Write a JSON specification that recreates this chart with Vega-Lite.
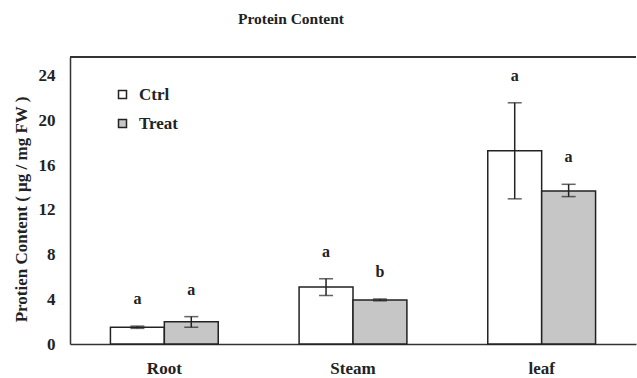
{
  "$schema": "https://vega.github.io/schema/vega-lite/v6.json",
  "autosize": {"type": "none"},
  "padding": {"left": 70, "top": 57, "right": 1, "bottom": 34},
  "width": 566,
  "height": 287,
  "background": "white",
  "config": {
    "view": {"stroke": null},
    "font": "Liberation Serif",
    "axis": {"labelFont": "Liberation Serif", "titleFont": "Liberation Serif", "labelFontWeight": "bold", "titleFontWeight": "bold", "labelColor": "#222", "titleColor": "#222"}
  },
  "title": {"text": "Protein Content", "font": "Liberation Serif", "fontSize": 15.5, "fontWeight": "bold", "color": "#222", "anchor": "middle", "dx": -62, "offset": 29},
  "data": {"values": [
    {"part": "Root", "series": "Ctrl", "value": 1.5, "lo": 1.4, "hi": 1.6, "letter": "a"},
    {"part": "Root", "series": "Treat", "value": 2.0, "lo": 1.5, "hi": 2.45, "letter": "a"},
    {"part": "Steam", "series": "Ctrl", "value": 5.1, "lo": 4.35, "hi": 5.85, "letter": "a"},
    {"part": "Steam", "series": "Treat", "value": 3.95, "lo": 3.87, "hi": 4.03, "letter": "b"},
    {"part": "leaf", "series": "Ctrl", "value": 17.3, "lo": 13.0, "hi": 21.6, "letter": "a"},
    {"part": "leaf", "series": "Treat", "value": 13.7, "lo": 13.2, "hi": 14.3, "letter": "a"}
  ]},
  "layer": [
    {
      "encoding": {
        "x": {"field": "part", "type": "nominal", "sort": ["Root", "Steam", "leaf"],
          "scale": {"paddingInner": 0, "paddingOuter": 0},
          "axis": {"title": null, "labelAngle": 0, "labelFontSize": 17, "labelPadding": 16, "ticks": false, "domainColor": "#333", "domainWidth": 1.5}},
        "xOffset": {"field": "series", "type": "nominal", "scale": {"paddingOuter": 0.75, "paddingInner": 0}}
      },
      "layer": [
        {
          "mark": {"type": "bar", "stroke": "#222", "strokeWidth": 1.5},
          "encoding": {
            "y": {"field": "value", "type": "quantitative",
              "scale": {"domain": [0, 25.7], "nice": false},
              "axis": {"values": [0, 4, 8, 12, 16, 20, 24], "grid": false, "ticks": false, "labelFontSize": 17, "labelPadding": 15, "domainColor": "#333", "domainWidth": 1.5,
                "title": "Protien Content ( μg / mg FW )", "titleFontSize": 17, "titleAngle": -90, "titleX": -49, "titleY": 152, "titleBaseline": "middle", "titleAlign": "center"}},
            "fill": {"field": "series", "type": "nominal",
              "scale": {"domain": ["Ctrl", "Treat"], "range": ["#ffffff", "#c6c6c6"]},
              "legend": {"title": null, "orient": "none", "legendX": 44, "legendY": 29, "symbolType": "square", "symbolSize": 64, "symbolStrokeColor": "#222", "symbolStrokeWidth": 1.5, "labelFont": "Liberation Serif", "labelFontWeight": "bold", "labelFontSize": 17, "labelColor": "#222", "rowPadding": 11, "labelOffset": 8}}
          }
        },
        {
          "mark": {"type": "rule", "color": "#222", "strokeWidth": 1.5},
          "encoding": {"y": {"field": "lo", "type": "quantitative"}, "y2": {"field": "hi"}}
        },
        {
          "mark": {"type": "tick", "color": "#222", "size": 14, "thickness": 1.5, "orient": "horizontal"},
          "encoding": {"y": {"field": "lo", "type": "quantitative"}}
        },
        {
          "mark": {"type": "tick", "color": "#222", "size": 14, "thickness": 1.5, "orient": "horizontal"},
          "encoding": {"y": {"field": "hi", "type": "quantitative"}}
        },
        {
          "mark": {"type": "text", "font": "Liberation Serif", "fontWeight": "bold", "fontSize": 16, "color": "#222", "dy": -27, "baseline": "middle"},
          "encoding": {"y": {"field": "hi", "type": "quantitative"}, "text": {"field": "letter"}}
        }
      ]
    },
    {
      "mark": {"type": "rule", "color": "#333", "strokeWidth": 1.5},
      "encoding": {"y": {"datum": 25.7}}
    }
  ]
}
